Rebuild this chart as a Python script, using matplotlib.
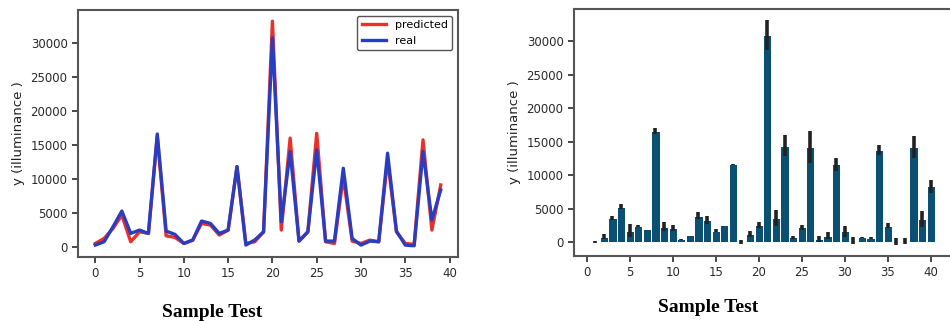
import numpy as np
from matplotlib import pyplot as plt

# left panel: predicted vs real illuminance for 40 test samples
idx = list(range(40))
real = [250, 740, 2950, 5260, 1970, 2460, 1970, 16600, 2310, 1820,
        490, 980, 3790, 3440, 1970, 2460, 11800, 250, 1000, 2200,
        30750, 3690, 14000, 840, 2200, 14270, 840, 840, 11560, 1230,
        250, 840, 740, 13780, 2310, 250, 150, 14020, 3940, 8360]
pred = [490, 1230, 2700, 4670, 740, 2200, 1970, 16200, 1620, 1380,
        490, 980, 3440, 3200, 1720, 2460, 11800, 500, 740, 2200,
        33200, 2460, 16000, 840, 2200, 16700, 740, 490, 10330, 840,
        490, 980, 740, 12800, 2200, 490, 350, 15740, 2460, 9100]

# right panel: bar heights and error half-widths for samples 1..40
bar_x = list(range(1, 41))
bar_mean = [100, 850, 3650, 5350, 1750, 2500, 2000, 16650, 2350, 2150,
            450, 1050, 4000, 3350, 1750, 2600, 11650, 0, 1250, 2600,
            30850, 3650, 14400, 750, 2250, 14250, 500, 1000, 11650, 1650,
            250, 750, 650, 13750, 2500, 150, 150, 14250, 3500, 8350]
bar_err = [150, 350, 300, 400, 1000, 150, 0, 450, 700, 400,
           100, 0, 500, 600, 200, 0, 100, 300, 500, 400,
           2250, 1200, 1600, 200, 400, 2400, 500, 500, 950, 850,
           500, 100, 100, 750, 400, 500, 450, 1600, 1150, 1000]

plt.rcParams['font.family'] = 'DejaVu Sans'
tick_col = '#2a2a2a'

fig = plt.figure(figsize=(9.5, 3.21), dpi=100)

ax1 = fig.add_axes([78 / 950, 1 - 257 / 321, 380 / 950, 247 / 321])
ax1.plot(idx, pred, color='#e8302c', lw=2.4, label='predicted')
ax1.plot(idx, real, color='#2a3cc0', lw=2.4, label='real')
ax1.set_xticks(range(0, 41, 5))
ax1.set_yticks(range(0, 30001, 5000))
ax1.set_ylabel('y (illuminance )', fontsize=9.5, color='#222222')
ax1.legend(loc='upper right', fontsize=8, handlelength=2.2, framealpha=1,
           edgecolor='#555555')

ax2 = fig.add_axes([574 / 950, 1 - 256 / 321, 378 / 950, 247 / 321])
ax2.bar(bar_x, bar_mean, width=0.95, color='#0b4f73', edgecolor='white',
        linewidth=0.7)
ax2.errorbar(bar_x, bar_mean, yerr=bar_err, fmt='none', ecolor='#222222',
             elinewidth=2.6)
ax2.set_xticks(range(0, 41, 5))
ax2.set_yticks(range(0, 30001, 5000))
ax2.set_ylabel('y (illuminance )', fontsize=9.5, color='#222222')

for ax in (ax1, ax2):
    ax.tick_params(labelsize=8.5, colors=tick_col, width=1.2, length=4)
    for s in ax.spines.values():
        s.set_color('#555555')
        s.set_linewidth(1.5)

fig.text(212 / 950, 1 - 317 / 321, 'Sample Test', ha='center', va='baseline',
         family='Liberation Serif', weight='bold', fontsize=14)
fig.text(708 / 950, 1 - 312 / 321, 'Sample Test', ha='center', va='baseline',
         family='Liberation Serif', weight='bold', fontsize=14)

fig.savefig('out.png', dpi=100)
